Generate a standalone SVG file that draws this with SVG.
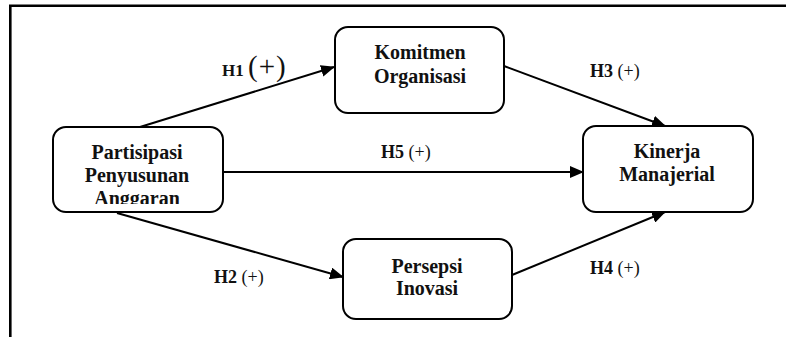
<svg xmlns="http://www.w3.org/2000/svg" width="786" height="337" viewBox="0 0 786 337">
<style>
.box{fill:#fff;stroke:#000;stroke-width:2}
.nt{font-family:"Liberation Serif","Times New Roman",serif;font-weight:bold;font-size:20px;text-anchor:middle;fill:#111}
.lb{font-family:"Liberation Serif","Times New Roman",serif;font-weight:bold;font-size:18px;fill:#111}
.pl{font-family:"Liberation Serif","Times New Roman",serif;font-weight:normal;font-size:18px;fill:#111}
.ed{stroke:#000;stroke-width:2;fill:none;marker-end:url(#ah)}
.fr{stroke:#000;stroke-width:2.6;fill:none}
</style>
<defs>
<marker id="ah" viewBox="0 0 14 12" refX="13" refY="6" markerWidth="14" markerHeight="12" markerUnits="userSpaceOnUse" orient="auto">
<path d="M0,0 L14,6 L0,12 Z" fill="#000"/>
</marker>
<clipPath id="cp"><rect x="54" y="128" width="168" height="76"/></clipPath>
</defs>
<rect width="786" height="337" fill="#fff"/>
<g id="frame">
<line class="fr" x1="9" y1="5.8" x2="786" y2="5.8"/>
<line class="fr" x1="10.3" y1="5" x2="10.3" y2="337"/>
</g>
<g id="connectors">
<line class="ed" x1="140" y1="127" x2="334" y2="67"/>
<line class="ed" x1="504" y1="66" x2="665" y2="126"/>
<line class="ed" x1="223" y1="172" x2="583" y2="172"/>
<line class="ed" x1="117" y1="213" x2="343" y2="277"/>
<line class="ed" x1="512" y1="275" x2="665" y2="212"/>
</g>
<g id="labels">
<text class="lb" x="222" y="76" style="font-size:17px">H1 <tspan style="font-weight:normal;font-size:29px;letter-spacing:1px">(+)</tspan></text>
<text class="lb" x="590" y="77">H3 <tspan class="pl">(+)</tspan></text>
<text class="lb" x="381" y="158">H5 <tspan class="pl">(+)</tspan></text>
<text class="lb" x="214" y="283">H2 <tspan class="pl">(+)</tspan></text>
<text class="lb" x="590" y="274">H4 <tspan class="pl">(+)</tspan></text>
</g>
<g id="node-komitmen">
<rect class="box" x="335" y="27" width="169" height="86" rx="13"/>
<text class="nt" x="420" y="59">Komitmen</text>
<text class="nt" x="420" y="83">Organisasi</text>
</g>
<g id="node-partisipasi">
<rect class="box" x="53" y="127" width="170" height="85" rx="13"/>
<g clip-path="url(#cp)">
<text class="nt" x="137" y="159">Partisipasi</text>
<text class="nt" x="137" y="182">Penyusunan</text>
<text class="nt" x="137" y="205">Anggaran</text>
</g>
</g>
<g id="node-kinerja">
<rect class="box" x="583" y="126" width="170" height="86" rx="13"/>
<text class="nt" x="667" y="158">Kinerja</text>
<text class="nt" x="667" y="181">Manajerial</text>
</g>
<g id="node-persepsi">
<rect class="box" x="343" y="239" width="169" height="80" rx="13"/>
<text class="nt" x="427" y="273">Persepsi</text>
<text class="nt" x="427" y="295">Inovasi</text>
</g>
</svg>
